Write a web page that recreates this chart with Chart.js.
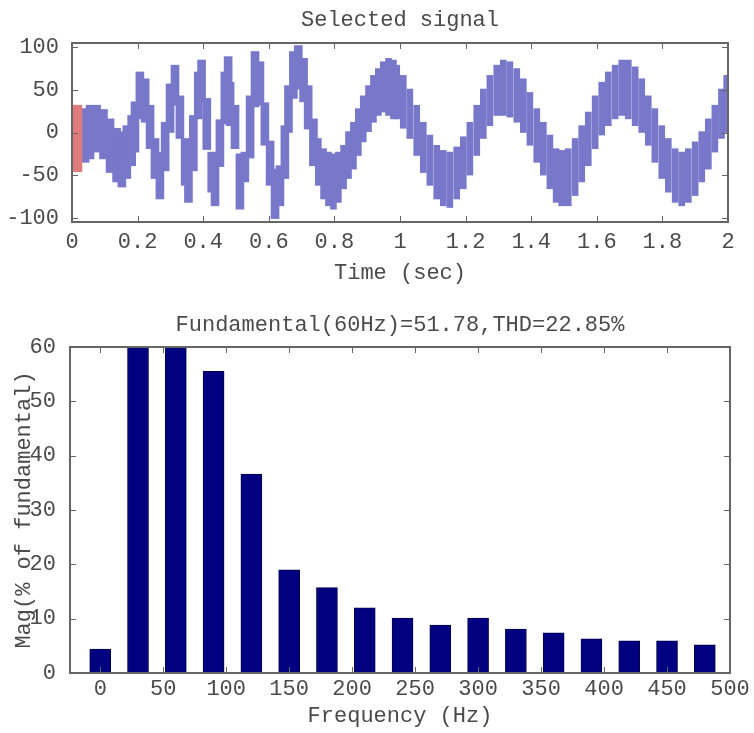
<!DOCTYPE html>
<html>
<head>
<meta charset="utf-8">
<script src="https://cdn.jsdelivr.net/npm/chart.js@4.4.1/dist/chart.umd.min.js"></script>
<style>
  html, body { margin: 0; padding: 0; background: #fff; }
  canvas { position: absolute; left: 0; }
  #top { top: 0; }
  #bottom { top: 290px; }
</style>
</head>
<body>
<canvas id="top" width="754" height="290"></canvas>
<canvas id="bottom" width="754" height="443"></canvas>
<script>
// Selected signal - upper / lower edge of the trace
const sigTime = [0.040, 0.055, 0.075, 0.096, 0.116, 0.136, 0.152, 0.167, 0.182, 0.192,
    0.207, 0.223, 0.238, 0.253, 0.268, 0.284, 0.299, 0.314, 0.329, 0.345,
    0.355, 0.370, 0.385, 0.395, 0.411, 0.426, 0.436, 0.451, 0.466, 0.476,
    0.482, 0.497, 0.512, 0.527, 0.543, 0.558, 0.573, 0.588, 0.604, 0.619,
    0.634, 0.649, 0.660, 0.675, 0.690, 0.706, 0.720, 0.736, 0.751, 0.767,
    0.782, 0.797, 0.812, 0.828, 0.843, 0.858, 0.873, 0.888, 0.904, 0.919,
    0.934, 0.949, 0.965, 0.980, 0.990, 1.010, 1.030, 1.051, 1.071, 1.091,
    1.112, 1.132, 1.152, 1.173, 1.193, 1.213, 1.234, 1.254, 1.274, 1.295,
    1.315, 1.335, 1.356, 1.376, 1.396, 1.417, 1.437, 1.457, 1.476, 1.493,
    1.513, 1.534, 1.554, 1.574, 1.595, 1.615, 1.635, 1.656, 1.676, 1.696,
    1.717, 1.737, 1.757, 1.777, 1.798, 1.818, 1.839, 1.859, 1.879, 1.900,
    1.920, 1.940, 1.960, 1.980, 1.996];
const sigUpper = [28, 32, 32, 27, 16, 5, 1, 8, 20, 36,
    71, 63, 32, -7, -23, 12, 57, 79, 43, -7,
    -27, 20, 71, 85, 40, -23, -31, 15, 71, 89,
    59, 32, -25, -23, 43, 95, 83, 35, -10, -43,
    -39, 8, 55, 95, 102, 87, 55, 16, -7, -19,
    -23, -25, -23, -15, 1, 12, 28, 43, 55, 67,
    75, 83, 87, 85, 79, 67, 51, 32, 12, -3,
    -15, -21, -23, -17, -5, 12, 32, 51, 67, 79,
    85, 83, 75, 63, 47, 28, 12, -3, -19, -21,
    -19, -7, 8, 24, 43, 59, 71, 79, 85, 85,
    77, 63, 43, 28, 8, -7, -19, -23, -19, -11,
    1, 16, 32, 51, 67];
const sigLower = [-35, -31, -23, -31, -47, -58, -64, -54, -39, -23,
    16, 12, -19, -54, -78, -45, 0, 32, -7, -62,
    -82, -45, 16, 36, -20, -70, -86, -40, 10, 51,
    8, -19, -90, -58, -30, 30, 32, -15, -62, -101,
    -86, -54, 0, 40, 51, 36, 4, -39, -62, -78,
    -86, -90, -82, -66, -54, -43, -27, -11, 1, 12,
    20, 24, 20, 16, 16, 5, -7, -27, -47, -62,
    -78, -86, -88, -78, -66, -50, -27, -7, 8, 20,
    20, 18, 12, 0, -15, -35, -50, -66, -82, -86,
    -86, -74, -58, -39, -19, -3, 8, 16, 20, 16,
    8, 0, -15, -35, -54, -70, -82, -86, -82, -74,
    -58, -43, -23, -7, 0];

// red marker at the very start of the window
const redTime = [0.015];
const redUpper = [32];
const redLower = [-46];

const timeTicks = [0, 0.2, 0.4, 0.6, 0.8, 1, 1.2, 1.4, 1.6, 1.8, 2];
const signalTicks = [-100, -50, 0, 50, 100];

// FFT bars
const freqs = [0, 30, 60, 90, 120, 150, 180, 210, 240, 270, 300, 330, 360, 390, 420, 450, 480];
const mags = [4.4, 90, 100, 55.5, 36.6, 19, 15.7, 12, 10.1, 8.8, 10.1, 8.1, 7.4, 6.3, 5.9, 5.9, 5.2];
const freqTicks = [0, 50, 100, 150, 200, 250, 300, 350, 400, 450, 500];
const magTicks = [0, 10, 20, 30, 40, 50, 60];

const mono = "'Liberation Mono', 'DejaVu Sans Mono', monospace";
const textColor = '#4a4a4a';
const font = { family: mono, size: 22, lineHeight: 1, weight: 'normal' };

// matlab style box with inward tick marks
const matlabBox = {
    id: 'matlabBox',
    afterDraw(chart) {
        const { ctx, chartArea: a, scales } = chart;
        ctx.save();
        ctx.strokeStyle = '#666';
        ctx.lineWidth = 1;
        ctx.beginPath();
        scales.x.ticks.forEach(t => {
            const px = Math.round(scales.x.getPixelForValue(t.value)) + 0.5;
            ctx.moveTo(px, a.bottom); ctx.lineTo(px, a.bottom - 6);
            ctx.moveTo(px, a.top); ctx.lineTo(px, a.top + 6);
        });
        scales.y.ticks.forEach(t => {
            const py = Math.round(scales.y.getPixelForValue(t.value)) + 0.5;
            ctx.moveTo(a.left, py); ctx.lineTo(a.left + 6, py);
            ctx.moveTo(a.right, py); ctx.lineTo(a.right - 6, py);
        });
        ctx.stroke();
        ctx.lineWidth = 2;
        ctx.strokeRect(a.left, a.top, a.right - a.left, a.bottom - a.top);
        ctx.restore();
    }
};

// the fast-swinging first part gets wider strokes so the trace stays joined
const sigPoints = sigTime.map((t, i) => ({ x: t, y: [sigLower[i], sigUpper[i]] }));
const earlyPoints = sigPoints.filter(p => p.x < 0.745);
const latePoints = sigPoints.filter(p => p.x >= 0.745);

// Selected signal
new Chart(document.getElementById('top'), {
    type: 'bar',
    data: {
        datasets: [
            {
                label: 'start',
                data: redTime.map((t, i) => ({ x: t, y: [redLower[i], redUpper[i]] })),
                backgroundColor: '#e07b7b',
                barThickness: 10,
                grouped: false,
                clip: 0,
                order: 0
            },
            {
                label: 'signal',
                data: earlyPoints,
                backgroundColor: '#7878ca',
                barThickness: 8,
                grouped: false,
                clip: 0,
                order: 1
            },
            {
                label: 'signal (rest)',
                data: latePoints,
                backgroundColor: '#7878ca',
                barThickness: 6,
                grouped: false,
                clip: 0,
                order: 1
            }
        ]
    },
    options: {
        responsive: false,
        animation: false,
        layout: { padding: { top: 0, right: 26, bottom: 0, left: 0 } },
        plugins: {
            legend: { display: false },
            tooltip: { enabled: false },
            title: {
                display: true,
                text: 'Selected signal',
                fullSize: false,
                color: textColor,
                font: font,
                padding: { top: 9, bottom: 12 }
            }
        },
        scales: {
            x: {
                type: 'linear',
                min: 0,
                max: 2,
                offset: false,
                grid: { display: false, offset: false },
                border: { display: false },
                afterBuildTicks: s => { s.ticks = timeTicks.map(v => ({ value: v })); },
                afterFit: s => { s.height = 68; },
                ticks: { color: textColor, font: font, padding: 1, maxRotation: 0, autoSkip: false,
                    callback: v => String(v) },
                title: { display: true, text: 'Time (sec)', color: textColor, font: font,
                    padding: { top: 0, bottom: 6 } }
            },
            y: {
                min: -105,
                max: 105,
                grid: { display: false },
                border: { display: false },
                afterBuildTicks: s => { s.ticks = signalTicks.map(v => ({ value: v })); },
                afterFit: s => { s.width = 72; },
                ticks: { color: textColor, font: font, padding: 5 }
            }
        }
    },
    plugins: [matlabBox]
});

// Spectrum
new Chart(document.getElementById('bottom'), {
    type: 'bar',
    data: {
        datasets: [{
            label: 'Mag',
            data: freqs.map((f, i) => ({ x: f, y: mags[i] })),
            backgroundColor: '#000080',
            borderColor: '#00004a',
            borderWidth: 1,
            barThickness: 21,
            clip: 0
        }]
    },
    options: {
        responsive: false,
        animation: false,
        layout: { padding: { top: 0, right: 24, bottom: 0, left: 0 } },
        plugins: {
            legend: { display: false },
            tooltip: { enabled: false },
            title: {
                display: true,
                text: 'Fundamental(60Hz)=51.78,THD=22.85%',
                fullSize: false,
                color: textColor,
                font: font,
                padding: { top: 24, bottom: 11 }
            }
        },
        scales: {
            x: {
                type: 'linear',
                min: -24,
                max: 500,
                offset: false,
                grid: { display: false, offset: false },
                border: { display: false },
                afterBuildTicks: s => { s.ticks = freqTicks.map(v => ({ value: v })); },
                afterFit: s => { s.height = 60; },
                ticks: { color: textColor, font: font, padding: -3, maxRotation: 0, autoSkip: false },
                title: { display: true, text: 'Frequency (Hz)', color: textColor, font: font,
                    padding: { top: 0, bottom: 6 } }
            },
            y: {
                min: 0,
                max: 60,
                grid: { display: false },
                border: { display: false },
                afterBuildTicks: s => { s.ticks = magTicks.map(v => ({ value: v })); },
                afterFit: s => { s.width = 70; },
                ticks: { color: textColor, font: font, padding: 6 },
                title: { display: true, text: 'Mag(% of fundamental)', color: textColor, font: font,
                    padding: { top: 13, bottom: 0 } }
            }
        }
    },
    plugins: [matlabBox]
});
</script>
</body>
</html>
